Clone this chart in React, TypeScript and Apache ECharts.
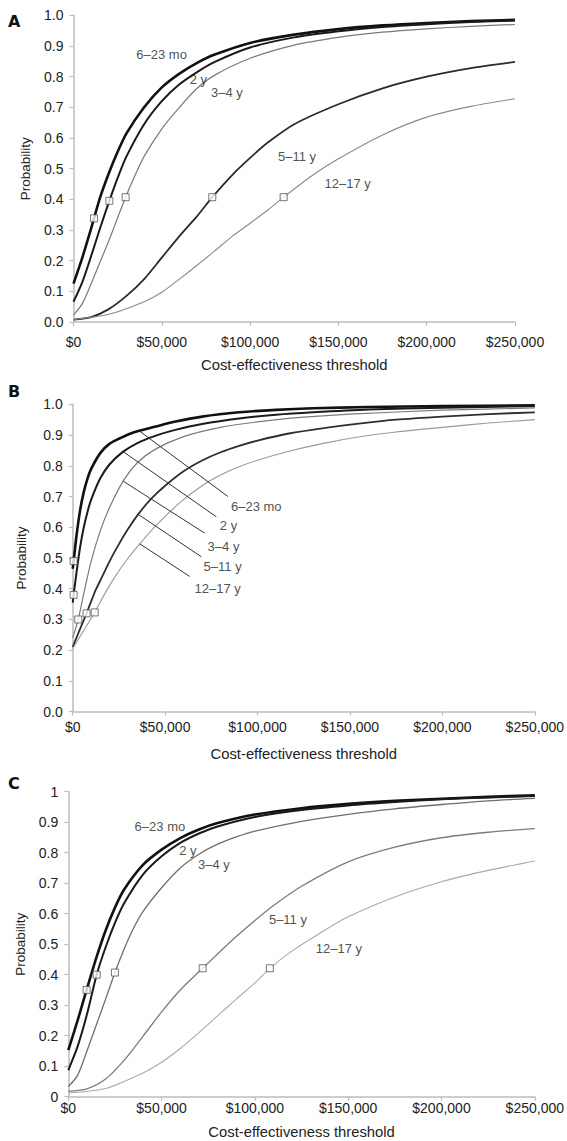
import React, { useEffect, useRef } from "react";
import * as echarts from "echarts";

// x = cost-effectiveness threshold in $ thousands, y = probability
const GROUPS = ["6–23 mo", "2 y", "3–4 y", "5–11 y", "12–17 y"];
const X_TICKS = [0, 50000, 100000, 150000, 200000, 250000];

// Panel A
const A_6_23 = [[0,.125],[5,.21],[10,.305],[11.6,.338],[15,.405],[20,.485],[25,.555],[30,.615],[40,.70],[50,.765],[60,.81],[70,.845],[80,.872],[100,.91],[125,.937],[150,.955],[175,.967],[200,.975],[225,.981],[250,.985]];
const A_2 = [[0,.066],[5,.13],[10,.215],[15,.305],[20.3,.395],[25,.47],[30,.54],[40,.645],[50,.72],[60,.775],[70,.815],[80,.848],[100,.895],[125,.928],[150,.948],[175,.962],[200,.971],[225,.978],[250,.983]];
const A_3_4 = [[0,.023],[5,.06],[10,.125],[15,.195],[20,.265],[25,.34],[29.5,.407],[35,.48],[40,.54],[50,.63],[60,.70],[70,.762],[80,.805],[100,.86],[125,.903],[150,.928],[175,.945],[200,.956],[225,.964],[250,.97]];
const A_5_11 = [[0,.008],[10,.016],[20,.042],[30,.085],[40,.14],[50,.21],[60,.28],[70,.345],[78.6,.407],[90,.48],[100,.535],[110,.585],[125,.645],[150,.71],[175,.762],[200,.80],[225,.828],[250,.848]];
const A_12_17 = [[0,.008],[20,.025],[40,.066],[50,.097],[60,.14],[70,.185],[80,.232],[90,.28],[100,.322],[110,.365],[119,.407],[135,.477],[150,.532],[175,.61],[200,.668],[225,.703],[250,.728]];
const A_MARKERS = [[11.6,.338],[20.3,.395],[29.5,.407],[78.6,.407],[119,.407]];
const A_LABELS = [[49.9,.871],[70.7,.792],[86.9,.748],[126.6,.539],[155.2,.452]];

// Panel B
const B_6_23 = [[0,.465],[0.5,.49],[2,.57],[4,.655],[6,.715],[8,.758],[10,.79],[15,.842],[20,.872],[25,.888],[30,.902],[36,.914],[45,.928],[55,.943],[70,.96],[90,.974],[110,.982],[130,.987],[160,.991],[200,.994],[250,.997]];
const B_2 = [[0,.355],[0.5,.38],[2,.45],[4,.535],[6,.60],[8,.65],[10,.69],[15,.76],[20,.805],[27.3,.846],[35,.874],[45,.898],[55,.916],[70,.936],[90,.954],[110,.966],[130,.974],[160,.983],[200,.989],[250,.994]];
const B_3_4 = [[0,.24],[3,.30],[6,.385],[10,.49],[15,.59],[20,.665],[27.3,.75],[35,.81],[45,.855],[60,.895],[80,.925],[100,.943],[125,.958],[150,.968],[200,.981],[250,.988]];
const B_5_11 = [[0,.21],[3,.255],[7.5,.32],[12,.39],[16,.44],[20,.49],[25,.545],[30,.595],[35.4,.642],[42,.69],[50,.735],[60,.782],[70,.817],[80,.844],[90,.865],[100,.882],[117,.905],[135,.922],[156,.938],[175,.95],[200,.96],[225,.968],[250,.974]];
const B_12_17 = [[0,.205],[5,.255],[11.9,.323],[17,.38],[23.2,.442],[30,.50],[36.3,.546],[45,.605],[58,.68],[70,.735],[80,.77],[90,.797],[100,.818],[117,.847],[135,.872],[156,.895],[175,.91],[200,.925],[225,.939],[250,.95]];
const B_MARKERS = [[0.5,.49],[0.5,.38],[3,.30],[7.5,.32],[11.9,.323]];
const B_LABELS = [[99.3,.667],[84.3,.607],[81.6,.537],[81.1,.471],[78.4,.402]];
const B_LEADER_FROM = [[36.3,.912],[27.3,.846],[27.3,.75],[35.4,.642],[36.3,.546]];
const B_LEADER_TO = [[84,.70],[77.7,.634],[71.4,.581],[69.6,.504],[63.3,.44]];

// Panel C
const C_6_23 = [[0,.153],[5,.25],[9.8,.35],[15,.455],[20,.545],[25,.62],[30,.68],[40,.76],[50,.81],[60,.848],[70,.876],[80,.897],[100,.925],[125,.946],[150,.96],[175,.97],[200,.977],[225,.983],[250,.988]];
const C_2 = [[0,.087],[5,.165],[10,.27],[15.2,.40],[20,.49],[25,.57],[30,.635],[40,.728],[50,.788],[60,.832],[70,.863],[80,.886],[100,.917],[125,.94],[150,.955],[175,.966],[200,.975],[225,.981],[250,.986]];
const C_3_4 = [[0,.033],[5,.07],[10,.15],[15,.235],[20,.32],[25,.407],[30,.485],[35,.553],[40,.607],[50,.685],[60,.75],[70,.795],[80,.828],[90,.852],[100,.871],[125,.903],[150,.926],[175,.944],[200,.958],[225,.97],[250,.978]];
const C_5_11 = [[0,.018],[10,.026],[20,.058],[30,.12],[40,.198],[50,.278],[60,.35],[72,.421],[80,.468],[90,.525],[100,.578],[110,.627],[125,.69],[150,.77],[175,.818],[200,.849],[225,.867],[250,.879]];
const C_12_17 = [[0,.012],[20,.027],[40,.078],[50,.113],[60,.158],[70,.21],[80,.265],[90,.32],[100,.373],[108,.421],[120,.478],[135,.537],[150,.59],[175,.655],[200,.705],[225,.742],[250,.773]];
const C_MARKERS = [[9.8,.35],[15.2,.40],[25,.407],[72,.421],[108,.421]];
const C_LABELS = [[49.1,.885],[64.1,.807],[78,.762],[117.7,.582],[145,.487]];

const FONT = "Liberation Sans, Arial, Helvetica, sans-serif";
const TEXT = "#222";
const AXIS = "#bdbdbd";

const toXY = (pts: number[][]) => pts.map(([x, y]) => [x * 1000, y]);

function money(v: number) {
  const s = String(Math.round(v));
  return "$" + s.replace(/\B(?=(\d{3})+(?!\d))/g, ",");
}

type PanelCfg = {
  letter: string;
  curves: number[][][];
  colors: string[];
  widths: number[];
  markers: number[][];
  labels: number[][];
  grid: { left: number; top: number; width: number; height: number };
  xLabelMargin: number;
  xNameGap: number;
  yNameGap: number;
  yFormat: (v: number) => string;
  letterTop: number;
  leaders?: { from: number[][]; to: number[][] };
};

export default function App() {
  const ref = useRef<HTMLDivElement>(null);
  useEffect(() => {
    if (!ref.current) return;
    const chart = echarts.init(ref.current, undefined, { renderer: "svg" });

    const panels: PanelCfg[] = [
      {
        letter: "A",
        curves: [A_6_23, A_2, A_3_4, A_5_11, A_12_17],
        colors: ["#111", "#1a1a1a", "#7a7a7a", "#2a2a2a", "#8a8a8a"],
        widths: [2.6, 2.0, 1.2, 1.8, 1.1],
        markers: A_MARKERS,
        labels: A_LABELS,
        grid: { left: 73.5, top: 15.3, width: 441.5, height: 306.7 },
        xLabelMargin: 13,
        xNameGap: 35,
        yNameGap: 41,
        yFormat: (v) => v.toFixed(1),
        letterTop: 13,
      },
      {
        letter: "B",
        curves: [B_6_23, B_2, B_3_4, B_5_11, B_12_17],
        colors: ["#111", "#1a1a1a", "#7a7a7a", "#2e2e2e", "#9a9a9a"],
        widths: [2.6, 2.0, 1.2, 1.8, 1.1],
        markers: B_MARKERS,
        labels: B_LABELS,
        grid: { left: 72.7, top: 404.3, width: 463.3, height: 307.4 },
        xLabelMargin: 8,
        xNameGap: 35,
        yNameGap: 44,
        yFormat: (v) => v.toFixed(1),
        letterTop: 383,
        leaders: { from: B_LEADER_FROM, to: B_LEADER_TO },
      },
      {
        letter: "C",
        curves: [C_6_23, C_2, C_3_4, C_5_11, C_12_17],
        colors: ["#111", "#1a1a1a", "#6e6e6e", "#7c7c7c", "#aaaaaa"],
        widths: [2.6, 2.0, 1.3, 1.3, 1.1],
        markers: C_MARKERS,
        labels: C_LABELS,
        grid: { left: 68.3, top: 791.7, width: 466.7, height: 305 },
        xLabelMargin: 4,
        xNameGap: 28,
        yNameGap: 36,
        yFormat: (v) => String(Number(v.toFixed(1))),
        letterTop: 775,
      },
    ];

    const grids: any[] = [];
    const xAxes: any[] = [];
    const yAxes: any[] = [];
    const series: any[] = [];
    const graphics: any[] = [];

    panels.forEach((p, i) => {
      grids.push({ ...p.grid, containLabel: false });
      xAxes.push({
        gridIndex: i,
        type: "value",
        min: X_TICKS[0],
        max: X_TICKS[X_TICKS.length - 1],
        interval: X_TICKS[1] - X_TICKS[0],
        axisLine: { show: true, onZero: false, lineStyle: { color: AXIS, width: 1.5 } },
        axisTick: { show: true, length: 4, lineStyle: { color: AXIS, width: 1.2 } },
        splitLine: { show: false },
        axisLabel: {
          formatter: (v: number) => money(v),
          color: TEXT,
          fontSize: 14,
          fontFamily: FONT,
          margin: p.xLabelMargin,
        },
        name: "Cost-effectiveness threshold",
        nameLocation: "middle",
        nameGap: p.xNameGap,
        nameTextStyle: { color: TEXT, fontSize: 14.8, fontFamily: FONT },
      });
      yAxes.push({
        gridIndex: i,
        type: "value",
        min: 0,
        max: 1,
        interval: 0.1,
        axisLine: { show: true, onZero: false, lineStyle: { color: AXIS, width: 1.5 } },
        axisTick: { show: true, length: 4, lineStyle: { color: AXIS, width: 1.2 } },
        splitLine: { show: false },
        axisLabel: {
          formatter: (v: number) => p.yFormat(v),
          color: TEXT,
          fontSize: 14,
          fontFamily: FONT,
          margin: 10,
        },
        name: "Probability",
        nameLocation: "middle",
        nameGap: p.yNameGap,
        nameRotate: 90,
        nameTextStyle: { color: TEXT, fontSize: 13.5, fontFamily: FONT },
      });

      p.curves.forEach((c, k) => {
        series.push({
          type: "line",
          name: `${p.letter} ${GROUPS[k]}`,
          xAxisIndex: i,
          yAxisIndex: i,
          data: toXY(c),
          showSymbol: false,
          symbol: "none",
          smooth: 0.25,
          lineStyle: { color: p.colors[k], width: p.widths[k] },
          silent: true,
          z: 2,
        });
      });

      series.push({
        type: "scatter",
        name: `${p.letter} markers`,
        xAxisIndex: i,
        yAxisIndex: i,
        data: toXY(p.markers),
        symbol: "rect",
        symbolSize: 7,
        itemStyle: { color: "#fff", borderColor: "#555", borderWidth: 1 },
        silent: true,
        z: 4,
      });

      const labelSeries: any = {
        type: "scatter",
        name: `${p.letter} labels`,
        xAxisIndex: i,
        yAxisIndex: i,
        data: p.labels.map(([x, y], k) => ({ value: [x * 1000, y], name: GROUPS[k] })),
        symbol: "circle",
        symbolSize: 1,
        itemStyle: { color: "rgba(0,0,0,0)" },
        label: {
          show: true,
          position: "inside",
          formatter: (d: any) => d.name,
          color: TEXT,
          fontSize: 13,
          fontFamily: FONT,
        },
        silent: true,
        z: 5,
      };
      if (p.leaders) {
        labelSeries.markLine = {
          silent: true,
          symbol: ["none", "none"],
          label: { show: false },
          lineStyle: { color: "#333", width: 1, type: "solid" },
          data: p.leaders.from.map((f, k) => [
            { coord: [f[0] * 1000, f[1]] },
            { coord: [p.leaders!.to[k][0] * 1000, p.leaders!.to[k][1]] },
          ]),
        };
      }
      series.push(labelSeries);

      graphics.push({
        type: "text",
        left: 8,
        top: p.letterTop,
        style: {
          text: p.letter,
          fontSize: 16,
          fontWeight: 900,
          fontFamily: "DejaVu Sans, sans-serif",
          fill: "#111",
        },
      });
    });

    chart.setOption({
      animation: false,
      backgroundColor: "#fff",
      grid: grids,
      xAxis: xAxes,
      yAxis: yAxes,
      series,
      graphic: graphics,
    });

    return () => chart.dispose();
  }, []);

  return (
    <div
      ref={ref}
      style={{ position: "absolute", left: 0, top: 0, width: 567, height: 1141, background: "#fff" }}
    />
  );
}
